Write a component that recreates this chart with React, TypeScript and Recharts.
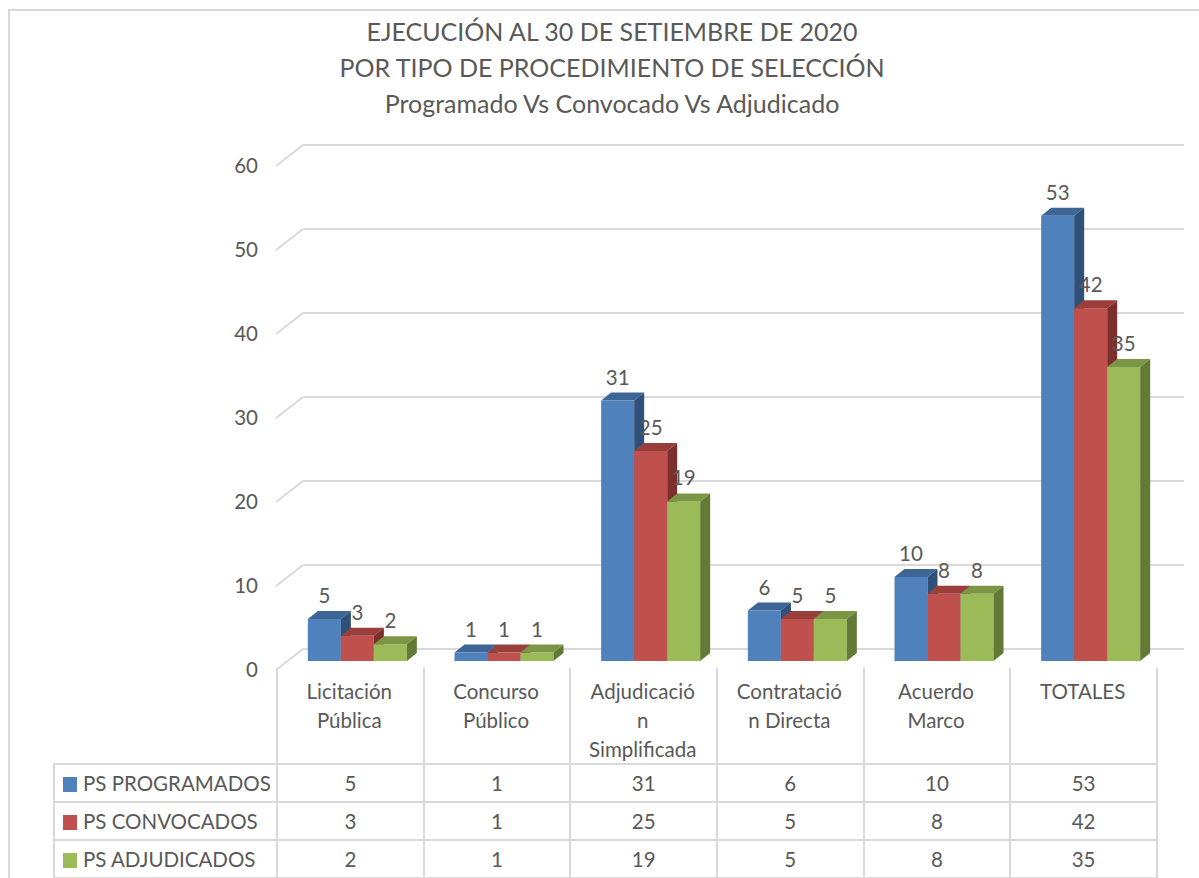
import { BarChart, Bar, XAxis, YAxis, CartesianGrid, LabelList } from "recharts";

const categories = [
  "Licitación\nPública",
  "Concurso\nPúblico",
  "Adjudicació\nn\nSimplificada",
  "Contratació\nn Directa",
  "Acuerdo\nMarco",
  "TOTALES",
];
const programados = [5, 1, 31, 6, 10, 53];
const convocados = [3, 1, 25, 5, 8, 42];
const adjudicados = [2, 1, 19, 5, 8, 35];
const yTicks = [0, 10, 20, 30, 40, 50, 60];
const titleLines = [
  "EJECUCIÓN AL 30 DE SETIEMBRE DE 2020",
  "POR TIPO DE PROCEDIMIENTO DE SELECCIÓN",
  "Programado Vs Convocado Vs Adjudicado",
];

const series = [
  { key: "prog", name: "PS PROGRAMADOS", values: programados, front: "#4f81bd", top: "#3d6696", side: "#2f5079" },
  { key: "conv", name: "PS CONVOCADOS", values: convocados, front: "#c0504d", top: "#9a3e3c", side: "#7c302e" },
  { key: "adj", name: "PS ADJUDICADOS", values: adjudicados, front: "#9bbb59", top: "#7b9645", side: "#637a37" },
];

const data = categories.map((c, i) => ({
  cat: c,
  prog: programados[i],
  conv: convocados[i],
  adj: adjudicados[i],
}));

const FONT = "Lato, 'Liberation Sans', sans-serif";
const TEXT = "#595959";
const GRID = "#d9d9d9";
const FS = 20.5;
// 3D offsets
const SHIFT_X = 7.5;
const SHIFT_Y = -9;
const DEPTH_X = 10;
const DEPTH_Y = 8;
const WALL_X = 27;
const WALL_Y = 21;

const makeShape = (s: (typeof series)[number]) => (props: any) => {
  const { x, y, width, height } = props;
  if (height == null || width == null) return <g />;
  const fx = x + SHIFT_X;
  const fy = y + SHIFT_Y;
  const w = width;
  const h = height;
  return (
    <g>
      <rect x={fx} y={fy} width={w} height={h} fill={s.front} />
      <polygon
        points={`${fx},${fy} ${fx + DEPTH_X},${fy - DEPTH_Y} ${fx + w + DEPTH_X},${fy - DEPTH_Y} ${fx + w},${fy}`}
        fill={s.top}
      />
      <polygon
        points={`${fx + w},${fy} ${fx + w + DEPTH_X},${fy - DEPTH_Y} ${fx + w + DEPTH_X},${fy + h - DEPTH_Y} ${fx + w},${fy + h}`}
        fill={s.side}
      />
    </g>
  );
};

const ValueLabel = (props: any) => {
  const { x, y, width, value } = props;
  return (
    <text
      x={x + width / 2 + SHIFT_X}
      y={y + SHIFT_Y - 16}
      textAnchor="middle"
      fill={TEXT}
      fontSize={FS}
      fontFamily={FONT}
    >
      {value}
    </text>
  );
};

const GridLine = (props: any) => {
  const { x1, x2, y1 } = props;
  return (
    <g key={props.key}>
      <line x1={x1} y1={y1} x2={x1 + WALL_X} y2={y1 - WALL_Y} stroke={GRID} strokeWidth={2} />
      <line x1={x1 + WALL_X} y1={y1 - WALL_Y} x2={x2 + 28} y2={y1 - WALL_Y} stroke={GRID} strokeWidth={2} />
    </g>
  );
};

const CategoryTick = (props: any) => {
  const { x, payload } = props;
  const lines = String(payload.value).split("\n");
  return (
    <text textAnchor="middle" fill={TEXT} fontSize={FS} fontFamily={FONT}>
      {lines.map((l, i) => (
        <tspan key={i} x={x} y={699 + i * 29}>
          {l}
        </tspan>
      ))}
    </text>
  );
};

const colW = (1156 - 276) / categories.length;
const cell: React.CSSProperties = {
  border: `2px solid ${GRID}`,
  textAlign: "center",
  padding: 0,
  color: TEXT,
  fontSize: FS,
};

export default function App() {
  return (
    <div
      style={{
        position: "absolute",
        left: 0,
        top: 0,
        width: 1199,
        height: 878,
        overflow: "hidden",
        background: "#fff",
        fontFamily: FONT,
      }}
    >
      <div
        style={{
          position: "absolute",
          left: 8,
          top: 9,
          width: 1240,
          height: 920,
          border: `2px solid ${GRID}`,
        }}
      />
      <div
        style={{
          position: "absolute",
          left: 262,
          top: 13,
          width: 700,
          textAlign: "center",
          color: TEXT,
          fontSize: 25,
          lineHeight: "36px",
        }}
      >
        {titleLines.map((t) => (
          <div key={t}>{t}</div>
        ))}
      </div>
      <table
        style={{
          position: "absolute",
          left: 53,
          top: 668,
          borderCollapse: "collapse",
          tableLayout: "fixed",
          width: 1156 - 53,
        }}
      >
        <colgroup>
          <col style={{ width: 276 - 53 }} />
          {categories.map((c) => (
            <col key={c} style={{ width: colW }} />
          ))}
        </colgroup>
        <tbody>
          <tr style={{ height: 96 }}>
            <td style={{ padding: 0, borderRight: `2px solid ${GRID}` }} />
            {categories.map((c) => (
              <td key={c} style={{ ...cell, borderTop: "none", borderBottom: `2px solid ${GRID}` }} />
            ))}
          </tr>
          {series.map((s) => (
            <tr key={s.key} style={{ height: 38 }}>
              <td style={{ ...cell, textAlign: "left", whiteSpace: "nowrap" }}>
                <span
                  style={{
                    display: "inline-block",
                    width: 14,
                    height: 15,
                    background: s.front,
                    marginLeft: 8,
                    marginRight: 6,
                    verticalAlign: "-1px",
                  }}
                />
                {s.name}
              </td>
              {s.values.map((v, i) => (
                <td key={i} style={cell}>
                  {v}
                </td>
              ))}
            </tr>
          ))}
        </tbody>
      </table>
      <div style={{ position: "absolute", left: 0, top: 0 }}>
        <BarChart
          width={1199}
          height={878}
          data={data}
          margin={{ top: 166, right: 43, bottom: 0, left: 0 }}
          barCategoryGap="16.6%"
          barGap={0}
        >
          <CartesianGrid vertical={false} horizontal={(p: any) => <GridLine {...p} />} />
          <YAxis
            width={276}
            domain={[0, 60]}
            ticks={yTicks}
            interval={0}
            axisLine={false}
            tickLine={false}
            tickSize={0}
            tickMargin={18}
            tick={{ fill: TEXT, fontSize: FS, fontFamily: FONT }}
          />
          <XAxis
            dataKey="cat"
            axisLine={false}
            tickLine={false}
            interval={0}
            height={208}
            tick={(p: any) => <CategoryTick {...p} />}
          />
          {series.map((s) => (
            <Bar
              key={s.key}
              dataKey={s.key}
              name={s.name}
              fill={s.front}
              isAnimationActive={false}
              shape={makeShape(s)}
            >
              <LabelList dataKey={s.key} content={(p: any) => <ValueLabel {...p} />} />
            </Bar>
          ))}
        </BarChart>
      </div>
    </div>
  );
}
